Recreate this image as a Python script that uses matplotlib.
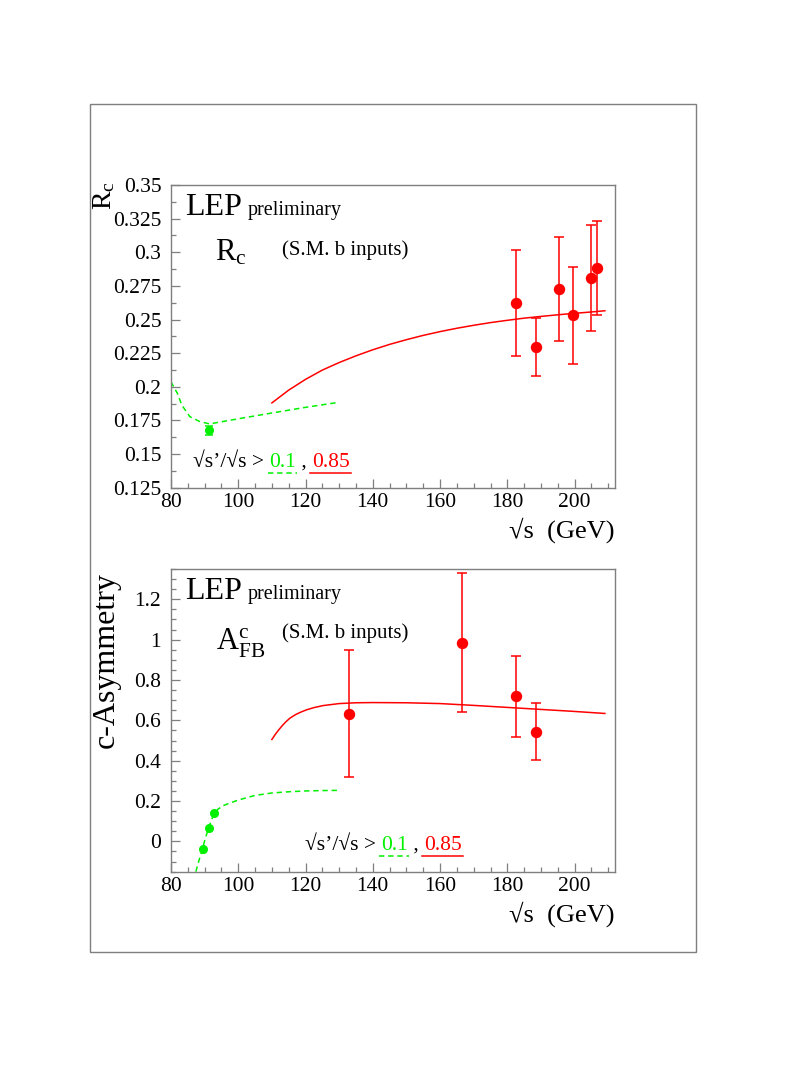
import matplotlib
matplotlib.use('Agg')
import matplotlib.pyplot as plt
from matplotlib.ticker import FixedLocator, MultipleLocator, FixedFormatter
from matplotlib.lines import Line2D
from matplotlib.patches import Rectangle

plt.rcParams['font.family'] = ['Liberation Serif', 'DejaVu Serif']
plt.rcParams['mathtext.fontset'] = 'custom'
plt.rcParams['mathtext.rm'] = 'Liberation Serif'
plt.rcParams['mathtext.it'] = 'Liberation Serif:italic'

# ---------------- data ----------------
# R_c panel
rc_sqrt_s = [182.7, 188.6, 195.5, 199.5, 204.9, 206.6]
rc_values = [0.2624, 0.2296, 0.2728, 0.2530, 0.2809, 0.2885]
rc_errors = [0.0395, 0.0215, 0.0387, 0.0360, 0.0392, 0.0350]
rc_z_sqrt_s = [91.2]
rc_z_values = [0.1675]
rc_z_errors = [0.003]
rc_sm_hi_x = [110, 115, 120, 125, 130, 135, 140, 145, 150, 155, 160, 165, 170, 175, 180,
              185, 190, 195, 200, 205, 209]
rc_sm_hi_y = [0.1880, 0.1975, 0.2055, 0.2124, 0.2180, 0.2230, 0.2275, 0.2315, 0.2350,
              0.2382, 0.2410, 0.2435, 0.2457, 0.2477, 0.2494, 0.2510, 0.2523, 0.2535,
              0.2546, 0.2556, 0.2565]
rc_sm_lo_x = [80, 81.9, 83.2, 85.6, 88.6, 91.5, 100, 110, 120, 130]
rc_sm_lo_y = [0.2037, 0.1951, 0.1865, 0.1778, 0.1741, 0.1724, 0.1762, 0.1805, 0.1847, 0.1885]

# A_FB^c panel
afb_sqrt_s = [133.0, 166.6, 182.7, 188.6]
afb_values = [0.632, 0.985, 0.720, 0.544]
afb_errors = [0.315, 0.344, 0.201, 0.143]
afb_z_sqrt_s = [89.4, 91.2, 92.9]
afb_z_values = [-0.036, 0.065, 0.139]
afb_sm_hi_x = [110, 111, 112, 113, 114, 115.3, 117, 118.5, 120.3, 122.5, 125.2, 130, 135,
               140, 150, 160, 170, 180, 190, 200, 209]
afb_sm_hi_y = [0.505, 0.530, 0.552, 0.572, 0.590, 0.610, 0.628, 0.640, 0.652, 0.663, 0.673,
               0.683, 0.687, 0.688, 0.687, 0.683, 0.674, 0.664, 0.654, 0.644, 0.634]
afb_sm_lo_x = [87.4, 88.4, 89.4, 90.2, 91.2, 92.0, 92.9, 94.0, 95.5, 97.5, 100, 105, 110,
               115, 120, 125, 130]
afb_sm_lo_y = [-0.15, -0.09, -0.036, 0.015, 0.065, 0.105, 0.139, 0.16, 0.177, 0.19, 0.205,
               0.228, 0.24, 0.246, 0.25, 0.252, 0.253]

x_ticks = [80, 100, 120, 140, 160, 180, 200]
x_ticklabels = ['80', '100', '120', '140', '160', '180', '200']
rc_yticks = [0.125, 0.15, 0.175, 0.2, 0.225, 0.25, 0.275, 0.3, 0.325, 0.35]
rc_yticklabels = ['0.125', '0.15', '0.175', '0.2', '0.225', '0.25', '0.275', '0.3', '0.325', '0.35']
afb_yticks = [0, 0.2, 0.4, 0.6, 0.8, 1.0, 1.2]
afb_yticklabels = ['0', '0.2', '0.4', '0.6', '0.8', '1', '1.2']

RED = '#ff0000'
GREEN = '#00f000'
GRAY = '#7f7f7f'
DASH = (0, (3.5, 2.5))

fig = plt.figure(figsize=(7.85, 10.9), dpi=100)

# outer frame
fig.patches.append(Rectangle((0.1146, 0.1266), 0.772, 0.778, transform=fig.transFigure,
                             fill=False, edgecolor=GRAY, linewidth=1.0))

ax1 = fig.add_axes([0.2178, 0.5526, 0.5656, 0.2777])
ax2 = fig.add_axes([0.2178, 0.2003, 0.5656, 0.2777])


def style_axes(ax, yticks, ylabels, yminor):
    ax.set_xlim(80, 212)
    ax.xaxis.set_major_locator(FixedLocator(x_ticks))
    ax.xaxis.set_major_formatter(FixedFormatter(x_ticklabels))
    ax.xaxis.set_minor_locator(MultipleLocator(5))
    ax.yaxis.set_major_locator(FixedLocator(yticks))
    ax.yaxis.set_major_formatter(FixedFormatter(ylabels))
    ax.yaxis.set_minor_locator(MultipleLocator(yminor))
    for s in ax.spines.values():
        s.set_color(GRAY)
        s.set_linewidth(1.0)
    ax.tick_params(which='both', direction='in', color=GRAY, top=False, right=False,
                   labelsize=15.5)
    ax.tick_params(which='major', length=6.5, width=0.9)
    ax.tick_params(which='minor', length=3.5, width=0.9)
    ax.tick_params(axis='x', pad=4)
    ax.tick_params(axis='y', pad=7)


# ---- top panel ----
style_axes(ax1, rc_yticks, rc_yticklabels, 0.0125)
ax1.set_ylim(0.125, 0.35)
ax1.plot(rc_sm_lo_x, rc_sm_lo_y, color=GREEN, lw=1.1, linestyle=DASH)
ax1.plot(rc_sm_hi_x, rc_sm_hi_y, color=RED, lw=1.1)
ax1.errorbar(rc_z_sqrt_s, rc_z_values, yerr=rc_z_errors, fmt='o', color=GREEN, ms=5.5,
             capsize=2.8, elinewidth=1.1, capthick=1.1)
ax1.errorbar(rc_sqrt_s, rc_values, yerr=rc_errors, fmt='o', color=RED, ms=7.2,
             capsize=3.6, elinewidth=1.1, capthick=1.1)

# ---- bottom panel ----
style_axes(ax2, afb_yticks, afb_yticklabels, 0.05)
ax2.set_ylim(-0.15, 1.35)
ax2.plot(afb_sm_lo_x, afb_sm_lo_y, color=GREEN, lw=1.1, linestyle=DASH)
ax2.plot(afb_sm_hi_x, afb_sm_hi_y, color=RED, lw=1.1)
ax2.plot(afb_z_sqrt_s, afb_z_values, 'o', color=GREEN, ms=5.5)
ax2.errorbar(afb_sqrt_s, afb_values, yerr=afb_errors, fmt='o', color=RED, ms=7.2,
             capsize=3.6, elinewidth=1.1, capthick=1.1)

# ---- texts ----
for ax in (ax1, ax2):
    ax.text(0.0315, 0.90, 'LEP', transform=ax.transAxes, fontsize=23, va='baseline')
    ax.text(0.172, 0.90, 'preliminary', transform=ax.transAxes, fontsize=14.5, va='baseline')
    ax.text(1.0, -0.14, '√s  (GeV)', transform=ax.transAxes, fontsize=19, ha='right',
            va='center')

ax1.text(0.099, 0.752, r'$\mathregular{R_c}$', transform=ax1.transAxes, fontsize=22,
         va='baseline')
ax1.text(0.249, 0.769, '(S.M. b inputs)', transform=ax1.transAxes, fontsize=15,
         va='baseline')
ax2.text(0.101, 0.732, r'$\mathregular{A^c_{FB}}$', transform=ax2.transAxes, fontsize=22,
         va='baseline')
ax2.text(0.249, 0.771, '(S.M. b inputs)', transform=ax2.transAxes, fontsize=15,
         va='baseline')

fig.text(104 / 785, 1 - 181 / 1090, r'$\mathregular{R_c}$', rotation=90, fontsize=20,
         ha='center', va='top')
fig.text(106 / 785, 1 - 660 / 1090, 'c-Asymmetry', rotation=90, fontsize=23,
         ha='center', va='center')

# legend-like cut text
fig.canvas.draw()
renderer = fig.canvas.get_renderer()


def cut_text(ax, x0, y0):
    parts = [('√s’/√s > ', 'black'), ('0.1', GREEN), (' , ', 'black'), ('0.85', RED)]
    x = x0
    items = []
    for s, c in parts:
        t = ax.text(x, y0, s, transform=ax.transAxes, fontsize=15.5, color=c, va='baseline')
        bb = t.get_window_extent(renderer)
        x = ax.transAxes.inverted().transform((bb.x1, 0))[0]
        items.append((t, bb))
    base_disp = ax.transAxes.transform((0, y0))[1]
    yline = ax.transAxes.inverted().transform((0, base_disp - 6))[1]
    for (t, bb), style, col in ((items[1], DASH, GREEN), (items[3], '-', RED)):
        xa = ax.transAxes.inverted().transform((bb.x0 - 2, 0))[0]
        xb = ax.transAxes.inverted().transform((bb.x1 + 1, 0))[0]
        ax.add_line(Line2D([xa, xb], [yline, yline], transform=ax.transAxes, color=col,
                           lw=1.1, linestyle=style))


cut_text(ax1, 0.050, 0.069)
cut_text(ax2, 0.302, 0.0717)

fig.savefig('out.png', dpi=100)
